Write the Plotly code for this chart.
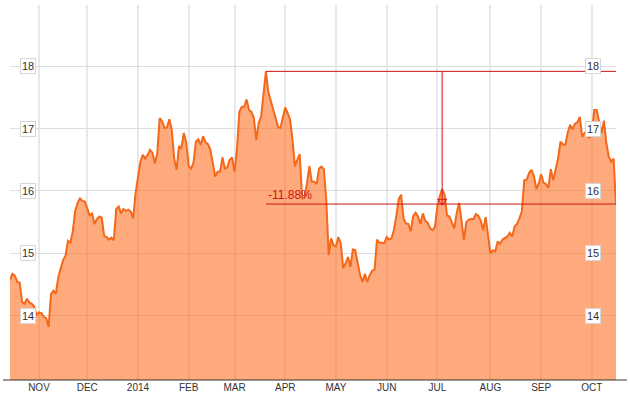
import pandas as pd
import plotly.graph_objects as go

# US market holidays in the period (trading-day axis)
HOLIDAYS = ["2013-11-28", "2013-12-25", "2014-01-01", "2014-01-20", "2014-02-17",
            "2014-04-18", "2014-05-26", "2014-07-04", "2014-09-01"]

dates = pd.bdate_range("2013-10-16", "2014-10-15", freq="C",
                       holidays=HOLIDAYS).strftime("%Y-%m-%d").tolist()

prices = [
    14.57, 14.67, 14.64, 14.54, 14.53, 14.22, 14.19, 14.27, 14.21, 14.19,
    14.15, 14.01, 14.05, 14.04, 13.98, 13.96, 13.82, 14.35, 14.40, 14.35,
    14.62, 14.78, 14.89, 14.96, 15.20, 15.17, 15.35, 15.68, 15.81, 15.88,
    15.84, 15.83, 15.70, 15.61, 15.64, 15.47, 15.55, 15.59, 15.57, 15.28,
    15.26, 15.22, 15.25, 15.21, 15.71, 15.75, 15.64, 15.71, 15.68, 15.70,
    15.67, 15.56, 15.96, 16.23, 16.47, 16.58, 16.52, 16.58, 16.66, 16.61,
    16.44, 16.61, 17.17, 17.12, 17.01, 17.02, 17.15, 16.98, 16.52, 16.34,
    16.72, 16.69, 16.93, 16.78, 16.40, 16.36, 16.45, 16.79, 16.83, 16.74,
    16.88, 16.78, 16.75, 16.66, 16.44, 16.23, 16.31, 16.31, 16.54, 16.36,
    16.38, 16.50, 16.54, 16.31, 16.66, 17.27, 17.35, 17.35, 17.47, 17.30,
    17.27, 17.17, 16.82, 17.09, 17.19, 17.51, 17.92, 17.59, 17.46, 17.30,
    17.19, 17.03, 17.01, 17.19, 17.34, 17.25, 17.15, 16.82, 16.40, 16.50,
    16.59, 15.87, 15.91, 16.12, 16.40, 16.15, 16.15, 16.11, 16.36, 16.39,
    16.35, 15.86, 14.97, 15.24, 15.13, 15.11, 15.26, 15.16, 14.76, 14.84,
    14.94, 14.78, 15.06, 15.05, 14.87, 14.65, 14.54, 14.67, 14.54, 14.65,
    14.72, 14.74, 15.22, 15.17, 15.17, 15.16, 15.26, 15.22, 15.24, 15.37,
    15.59, 15.87, 15.94, 15.56, 15.48, 15.47, 15.35, 15.60, 15.65, 15.59,
    15.47, 15.64, 15.52, 15.49, 15.40, 15.37, 15.42, 15.75, 15.91, 16.03,
    15.94, 15.61, 15.59, 15.48, 15.40, 15.64, 15.81, 15.53, 15.21, 15.50,
    15.54, 15.55, 15.55, 15.63, 15.60, 15.52, 15.37, 15.58, 15.32, 15.00,
    15.05, 15.03, 15.19, 15.15, 15.22, 15.24, 15.27, 15.33, 15.27, 15.43,
    15.47, 15.56, 15.67, 16.17, 16.18, 16.29, 16.34, 16.24, 16.03, 16.12,
    16.27, 16.13, 16.11, 16.05, 16.35, 16.17, 16.34, 16.52, 16.79, 16.75,
    16.74, 16.94, 17.06, 16.99, 17.08, 17.10, 17.19, 16.87, 16.93, 16.90,
    16.85, 16.95, 17.30, 17.30, 17.11, 16.93, 17.13, 16.77, 16.55, 16.47,
    16.52, 15.79,
]

month_ticks = ["2013-11-01", "2013-12-02", "2014-01-02", "2014-02-03", "2014-03-03",
               "2014-04-01", "2014-05-01", "2014-06-02", "2014-07-01", "2014-08-01",
               "2014-09-02", "2014-10-01"]
month_labels = ["NOV", "DEC", "2014", "FEB", "MAR", "APR", "MAY", "JUN", "JUL",
                "AUG", "SEP", "OCT"]
y_ticks = [14, 15, 16, 17, 18]
marker_date = "2014-07-03"
change_label = "-11.88%"

RED = "#cc1414"
LINE = "#f4681a"
FILL = "rgba(255,105,25,0.57)"
FONT = "Arial, Liberation Sans, sans-serif"

peak_i = max(range(len(prices)), key=lambda i: prices[i])
peak_date, peak_val = dates[peak_i], prices[peak_i]
last_date, last_val = dates[-1], prices[-1]

fig = go.Figure()
fig.add_trace(go.Scatter(
    x=dates, y=prices, mode="lines",
    line=dict(color=LINE, width=2),
    fill="tozeroy", fillcolor=FILL, hoverinfo="skip", showlegend=False,
))
fig.add_trace(go.Scatter(
    x=[marker_date], y=[last_val + 0.045], mode="markers",
    marker=dict(symbol="triangle-down-open", size=8, color=RED,
                line=dict(color=RED, width=1)),
    hoverinfo="skip", showlegend=False,
))

shapes = [
    dict(type="line", xref="paper", yref="paper", x0=-0.0116, x1=1.018, y0=0, y1=0,
         line=dict(color="#333333", width=1)),
    dict(type="line", xref="x", yref="y", x0=peak_date, x1=last_date,
         y0=peak_val, y1=peak_val, line=dict(color=RED, width=1)),
    dict(type="line", xref="x", yref="y", x0=peak_date, x1=last_date,
         y0=last_val, y1=last_val, line=dict(color=RED, width=1)),
    dict(type="line", xref="x", yref="y", x0=marker_date, x1=marker_date,
         y0=peak_val, y1=last_val, line=dict(color=RED, width=1)),
]

annotations = []
for side_x in (0.029, 0.9616):
    for v in y_ticks:
        annotations.append(dict(
            x=side_x, xref="paper", y=v, yref="y", text=str(v), showarrow=False,
            xanchor="center", yanchor="middle",
            font=dict(family=FONT, size=11, color="#333333"),
            bgcolor="white", bordercolor="#d6d6d6", borderwidth=1, borderpad=1,
        ))
annotations.append(dict(
    x=peak_date, xref="x", y=last_val, yref="y", text=change_label, showarrow=False,
    xanchor="left", yanchor="bottom", xshift=0, yshift=0,
    font=dict(family=FONT, size=12, color=RED),
))

fig.update_layout(
    width=630, height=395,
    margin=dict(l=10, r=14, t=5, b=15),
    paper_bgcolor="white", plot_bgcolor="white",
    showlegend=False,
    shapes=shapes, annotations=annotations,
    xaxis=dict(
        type="date", range=[dates[0], dates[-1]],
        rangebreaks=[dict(bounds=["sat", "mon"]), dict(values=HOLIDAYS)],
        tickmode="array", tickvals=month_ticks, ticktext=month_labels,
        showgrid=True, gridcolor="#e8e8e8", gridwidth=2,
        ticks="", showline=False, zeroline=False, automargin=False,
        tickfont=dict(family=FONT, size=10, color="#333333"),
    ),
    yaxis=dict(
        range=[12.966, 18.985], tickmode="array", tickvals=y_ticks,
        showticklabels=False, showgrid=True, gridcolor="#dedede", gridwidth=1,
        zeroline=False, showline=False, ticks="", automargin=False,
    ),
)

fig.write_html(
    "out.html",
    config={"displayModeBar": False},
    post_script="document.body.style.margin='0';document.body.style.padding='0';",
)
